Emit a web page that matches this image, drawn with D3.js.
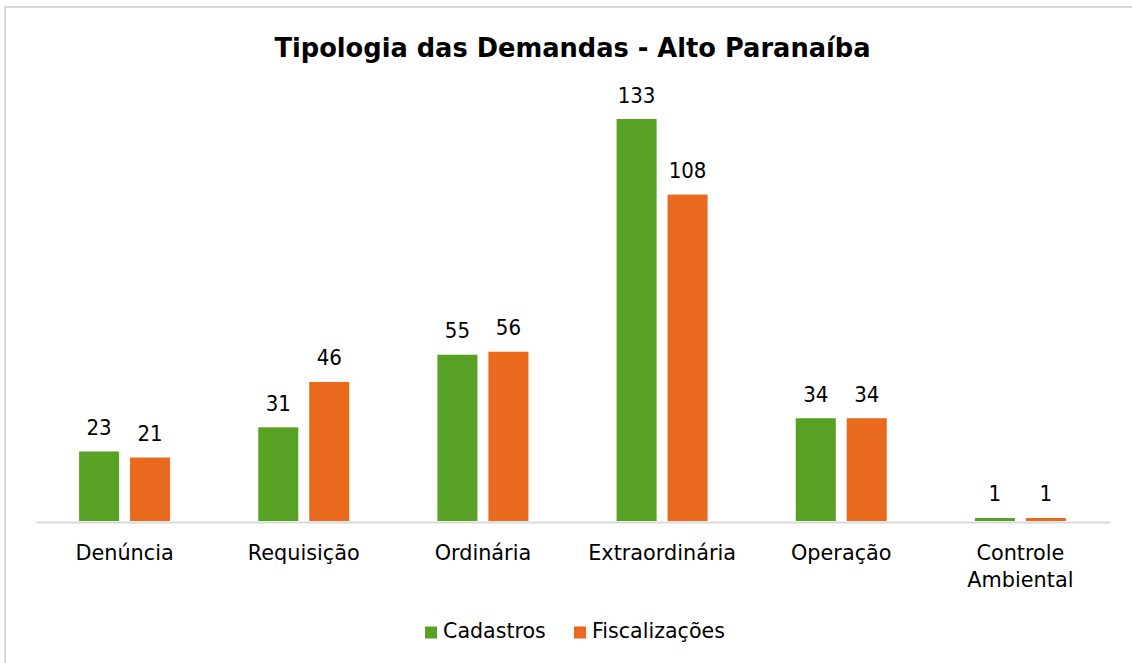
<!DOCTYPE html>
<html>
<head>
<meta charset="utf-8">
<script src="https://cdn.jsdelivr.net/npm/d3@7"></script>
<style>
  html, body { margin: 0; padding: 0; background: #fff; }
  svg { display: block; font-family: "DejaVu Sans", sans-serif; }
  text { font-family: "DejaVu Sans", sans-serif; }
  text.val { font-family: "DejaVu Sans Condensed", "DejaVu Sans", sans-serif; font-stretch: condensed; }
</style>
</head>
<body>
<svg id="chart" width="1132" height="663"></svg>
<script>
// Demand types and counts per series
const categories = ["Denúncia", "Requisição", "Ordinária", "Extraordinária", "Operação", "Controle Ambiental"];
const seriesNames = ["Cadastros", "Fiscalizações"];
const cadastros = [23, 31, 55, 133, 34, 1];
const fiscalizacoes = [21, 46, 56, 108, 34, 1];
const seriesColors = ["#57a125", "#e9691d"];

const W = 1132, H = 663;
const svg = d3.select("#chart");

// Outer frame
svg.append("rect")
  .attr("x", 5).attr("y", 7)
  .attr("width", W + 10).attr("height", H + 10)
  .attr("fill", "#fff").attr("stroke", "#d9d9d9").attr("stroke-width", 2);

const plot = { left: 35, right: 1110, top: 119, bottom: 521 };

const x0 = d3.scaleBand().domain(categories).range([plot.left, plot.right]).paddingInner(0).paddingOuter(0);
const x1 = d3.scaleBand().domain(seriesNames).range([x0.bandwidth() / 2 - 45.5, x0.bandwidth() / 2 + 45.5]).paddingInner(0.215).paddingOuter(0);
const y = d3.scaleLinear().domain([0, 133]).range([plot.bottom, plot.top]);

const rows = categories.map((c, i) => ({ cat: c, vals: [cadastros[i], fiscalizacoes[i]] }));

// Title
svg.append("text")
  .attr("x", 572.5).attr("y", 57)
  .attr("text-anchor", "middle")
  .attr("font-size", 25.7).attr("font-weight", "bold").attr("fill", "#000")
  .text("Tipologia das Demandas - Alto Paranaíba");

// Bars
const groups = svg.selectAll("g.cat").data(rows).join("g")
  .attr("class", "cat")
  .attr("transform", d => `translate(${x0(d.cat)},0)`);

groups.selectAll("rect").data(d => d.vals.map((v, j) => ({ s: seriesNames[j], v, j }))).join("rect")
  .attr("x", d => x1(d.s))
  .attr("width", x1.bandwidth())
  .attr("y", d => y(d.v))
  .attr("height", d => y(0) - y(d.v))
  .attr("fill", d => seriesColors[d.j]);

// Value labels
groups.selectAll("text.val").data(d => d.vals.map((v, j) => ({ s: seriesNames[j], v, j }))).join("text")
  .attr("class", "val")
  .attr("x", d => x1(d.s) + x1.bandwidth() / 2)
  .attr("y", d => y(d.v) - 16.5)
  .attr("text-anchor", "middle")
  .attr("font-size", 22).attr("fill", "#000")
  .text(d => d.v);

// Category axis
const xAxis = svg.append("g").attr("transform", `translate(0,${plot.bottom + 1})`)
  .call(d3.axisBottom(x0).tickSize(0).tickFormat(""))
  .attr("font-family", null).attr("font-size", null);
xAxis.select(".domain").attr("stroke", "#d9d9d9").attr("stroke-width", 2);

xAxis.selectAll(".tick").each(function (d) {
  const t = d3.select(this).append("text")
    .attr("text-anchor", "middle").attr("fill", "#000").attr("font-size", 20.8);
  const words = d === "Controle Ambiental" ? ["Controle", "Ambiental"] : [d];
  words.forEach((w, k) => t.append("tspan").attr("x", 0).attr("y", 37.5 + k * 27.3).text(w));
});

// Legend
const legend = svg.append("g").attr("transform", "translate(0,638)");
const legendX = [425, 574];
seriesNames.forEach((s, j) => {
  const g = legend.append("g").attr("transform", `translate(${legendX[j]},0)`);
  g.append("rect").attr("x", 0).attr("y", -11.5).attr("width", 12).attr("height", 12).attr("fill", seriesColors[j]);
  g.append("text").attr("x", 18).attr("y", 0).attr("font-size", 20.6).attr("fill", "#000").text(s);
});
</script>
</body>
</html>
